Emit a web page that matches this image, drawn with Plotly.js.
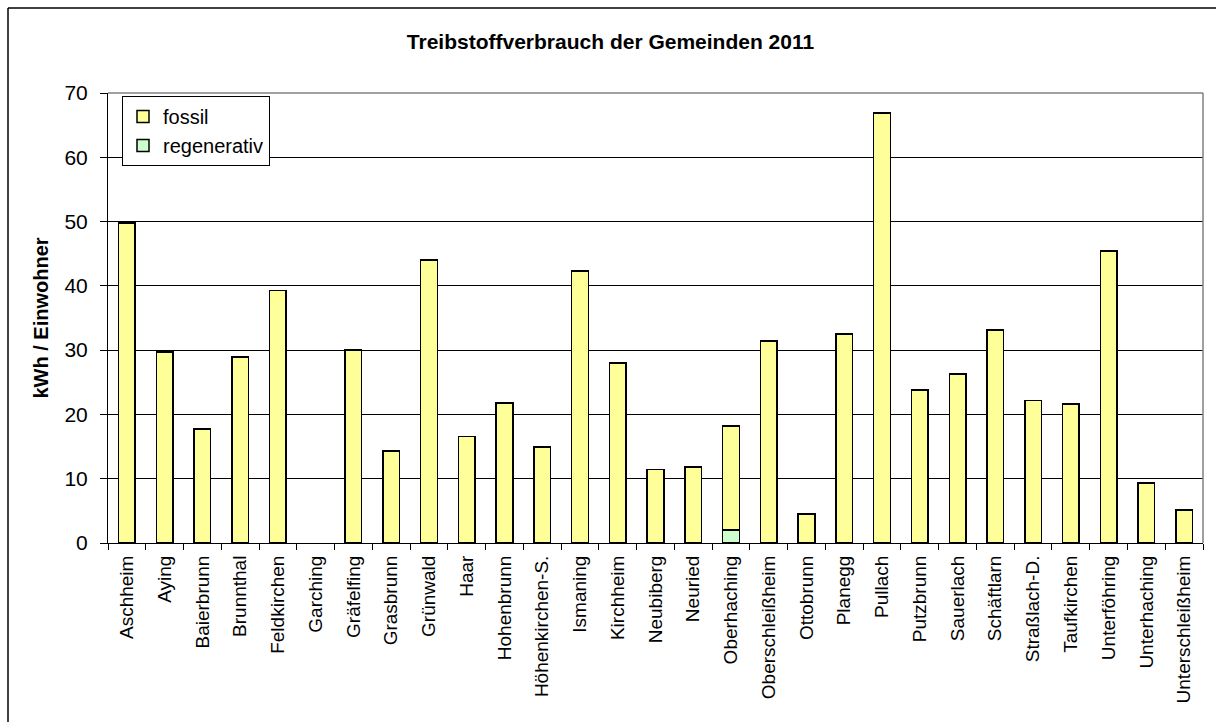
<!DOCTYPE html>
<html>
<head>
<meta charset="utf-8">
<script src="https://cdn.plot.ly/plotly-3.0.1.min.js"></script>
<style>
html,body{margin:0;padding:0;background:#fff;}
#chart{width:1216px;height:722px;}
</style>
</head>
<body>
<div id="chart"></div>
<script>
const categories = ["Aschheim","Aying","Baierbrunn","Brunnthal","Feldkirchen","Garching","Gräfelfing","Grasbrunn","Grünwald","Haar","Hohenbrunn","Höhenkirchen-S.","Ismaning","Kirchheim","Neubiberg","Neuried","Oberhaching","Oberschleißheim","Ottobrunn","Planegg","Pullach","Putzbrunn","Sauerlach","Schäftlarn","Straßlach-D.","Taufkirchen","Unterföhring","Unterhaching","Unterschleißheim"];
const fossil = [49.8,29.7,17.7,28.9,39.3,null,30.0,14.3,44.0,16.6,21.8,14.9,42.3,28.0,11.4,11.8,16.2,31.4,4.5,32.5,66.9,23.8,26.3,33.1,22.2,21.6,45.4,9.3,5.1];
const regenerativ = [null,null,null,null,null,null,null,null,null,null,null,null,null,null,null,null,2.0,null,null,null,null,null,null,null,null,null,null,null,null];
const yTicks = [0,10,20,30,40,50,60,70];

const L=108, R=1203, T=93, B=543;
const W=R-L, H=B-T;
const px = x => (x-L)/W;
const py = y => (B-y)/H;

const traces = [
  {type:'bar', name:'regenerativ', x:categories, y:regenerativ,
   marker:{color:'#CCFFCC', line:{color:'#000', width:1.5}}},
  {type:'bar', name:'fossil', x:categories, y:fossil,
   marker:{color:'#FFFF99', line:{color:'#000', width:1.5}}}
];

const layout = {
  width:1216, height:722,
  margin:{l:L, r:1216-R, t:T, b:722-B, pad:0},
  paper_bgcolor:'#fff', plot_bgcolor:'#fff',
  barmode:'stack', bargap:0.56,
  font:{family:'Liberation Sans, Arial, sans-serif', color:'#000'},
  title:{text:'<b>Treibstoffverbrauch der Gemeinden 2011</b>', font:{size:21, family:'Liberation Sans, Arial, sans-serif', color:'#000'},
         x:(393+828)/2/1216, xref:'container', xanchor:'center', y:1-42/722, yanchor:'middle'},
  xaxis:{type:'category', tickangle:-90, tickfont:{size:19}, showline:true, linecolor:'#000', linewidth:1,
         ticks:'outside', ticklen:6, tickcolor:'#000', tickson:'boundaries', showgrid:false, automargin:false,
         ticklabelstandoff:4},
  yaxis:{range:[0,70], tickvals:yTicks, ticktext:yTicks.map(String), tickfont:{size:21},
         showline:true, linecolor:'#000', linewidth:1, ticks:'outside', ticklen:7, tickcolor:'#000',
         showgrid:true, gridcolor:'#000', gridwidth:1, zeroline:false, automargin:false, ticklabelstandoff:8,
         title:{text:'<b>kWh / Einwohner</b>', font:{size:20}, standoff:10}},
  legend:{x:px(122), y:py(96), xanchor:'left', yanchor:'top', bgcolor:'#fff', bordercolor:'#000', borderwidth:1,
          font:{size:20}, traceorder:'reversed', itemwidth:30, tracegroupgap:0},
  showlegend:true,
  shapes:[
    {type:'line', xref:'paper', yref:'paper', x0:0, x1:1, y0:1, y1:1, line:{color:'#808080', width:1.5}, layer:'above'},
    {type:'line', xref:'paper', yref:'paper', x0:1, x1:1, y0:0, y1:1, line:{color:'#808080', width:1.5}, layer:'above'},
    {type:'line', xref:'paper', yref:'paper', x0:px(8), x1:px(1220), y0:py(8), y1:py(8), line:{color:'#000', width:1.5}, layer:'above'},
    {type:'line', xref:'paper', yref:'paper', x0:px(8), x1:px(8), y0:py(8), y1:py(730), line:{color:'#000', width:1.5}, layer:'above'}
  ]
};

Plotly.newPlot('chart', traces, layout, {displayModeBar:false, staticPlot:true});
</script>
</body>
</html>
